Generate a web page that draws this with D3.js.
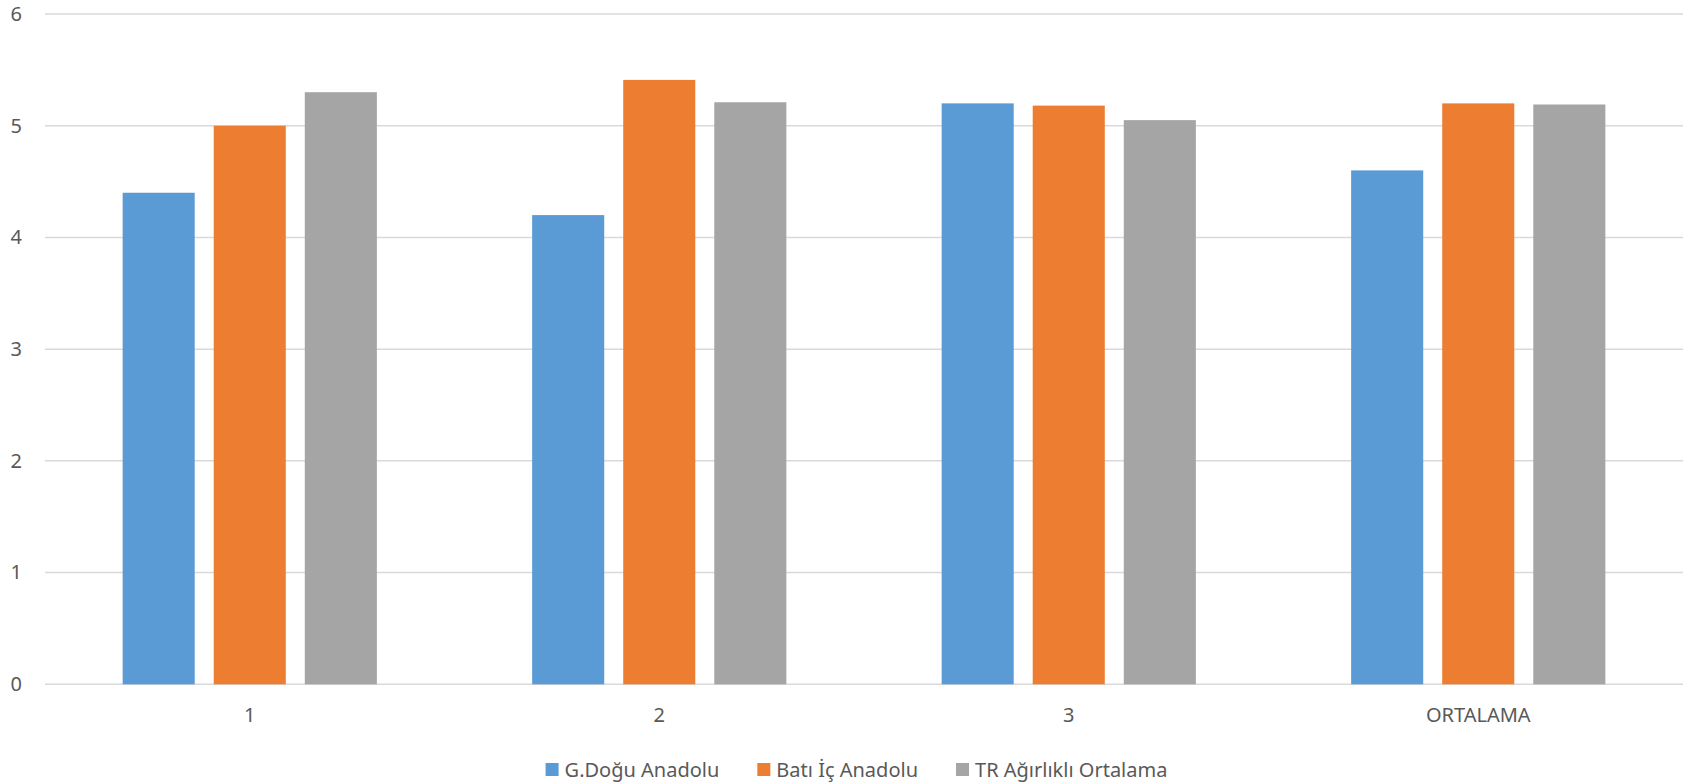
<!DOCTYPE html>
<html>
<head>
<meta charset="utf-8">
<script src="https://cdn.jsdelivr.net/npm/d3@7"></script>
<style>
  html, body { margin: 0; padding: 0; background: #fff; }
  svg { display: block; }
  text { font-family: "Noto Sans", "Open Sans", sans-serif; fill: #595959; }
</style>
</head>
<body>
<svg id="chart" width="1690" height="784"></svg>
<script>
const categories = ["1", "2", "3", "ORTALAMA"];
const seriesNames = ["G.Doğu Anadolu", "Batı İç Anadolu", "TR Ağırlıklı Ortalama"];
const gDoguValues = [4.40, 4.20, 5.20, 4.60];
const batiIcValues = [5.00, 5.41, 5.18, 5.20];
const trValues = [5.30, 5.21, 5.05, 5.19];
const yTicks = [0, 1, 2, 3, 4, 5, 6];
const colors = ["#5B9BD5", "#ED7D31", "#A5A5A5"];

const seriesValues = [gDoguValues, batiIcValues, trValues];
const data = categories.map((c, i) => ({
  cat: c,
  vals: seriesNames.map((s, j) => ({ series: s, idx: j, value: seriesValues[j][i] }))
}));

const svg = d3.select("#chart");
const margin = { left: 45, right: 7, top: 14 };
const W = 1690, H = 784;
const x0 = margin.left, x1 = W - margin.right;
const yTop = margin.top, yBottom = 684.3;

const x = d3.scaleBand().domain(categories).range([x0, x1]).paddingInner(0).paddingOuter(0);
const barW = x.bandwidth() * 0.176;
const barGap = 19;
const half = 1.5 * barW + barGap;
const xs = d3.scaleBand().domain(d3.range(3)).range([-half, half])
  .paddingInner(barGap / (barW + barGap)).paddingOuter(0);

const y = d3.scaleLinear().domain([0, 6]).range([yBottom, yTop]);

// gridlines
svg.append("g").selectAll("line").data(yTicks).join("line")
  .attr("x1", x0).attr("x2", x1)
  .attr("y1", d => y(d)).attr("y2", d => y(d))
  .attr("stroke", "#d9d9d9").attr("stroke-width", 1.5);

// y axis labels
const yAxis = d3.axisLeft(y).tickValues(yTicks).tickSize(0).tickPadding(0).tickFormat(d3.format("d"));
const gy = svg.append("g").attr("transform", "translate(22,0)").call(yAxis);
gy.select(".domain").remove();
gy.selectAll("text").attr("font-size", 20).attr("fill", "#595959")
  .style("font-family", '"Noto Sans", "Open Sans", sans-serif');

// bars
const groups = svg.append("g").selectAll("g").data(data).join("g")
  .attr("transform", d => `translate(${x(d.cat) + x.bandwidth() / 2},0)`);
groups.selectAll("rect").data(d => d.vals).join("rect")
  .attr("x", d => xs(d.idx))
  .attr("width", xs.bandwidth())
  .attr("y", d => y(d.value))
  .attr("height", d => y(0) - y(d.value))
  .attr("fill", d => colors[d.idx]);

// x axis labels
const xAxis = d3.axisBottom(x).tickSize(0).tickPadding(0);
const gx = svg.append("g").attr("transform", `translate(0,${yBottom})`).call(xAxis);
gx.select(".domain").remove();
gx.selectAll("text").attr("font-size", 20).attr("fill", "#595959")
  .attr("dy", null).attr("y", 38)
  .style("font-family", '"Noto Sans", "Open Sans", sans-serif');

// legend
const legend = svg.append("g");
const items = legend.selectAll("g").data(seriesNames).join("g");
items.append("rect").attr("width", 13).attr("height", 13).attr("y", 763)
  .attr("fill", (d, i) => colors[i]);
items.append("text").attr("x", 19).attr("y", 777).attr("font-size", 20).text(d => d);
let widths = [];
items.each(function () { widths.push(19 + d3.select(this).select("text").node().getComputedTextLength()); });
const gap = 38;
const total = d3.sum(widths) + gap * (widths.length - 1);
let cx = 856.5 - total / 2;
items.attr("transform", (d, i) => {
  const t = `translate(${cx},0)`;
  cx += widths[i] + gap;
  return t;
});
</script>
</body>
</html>
